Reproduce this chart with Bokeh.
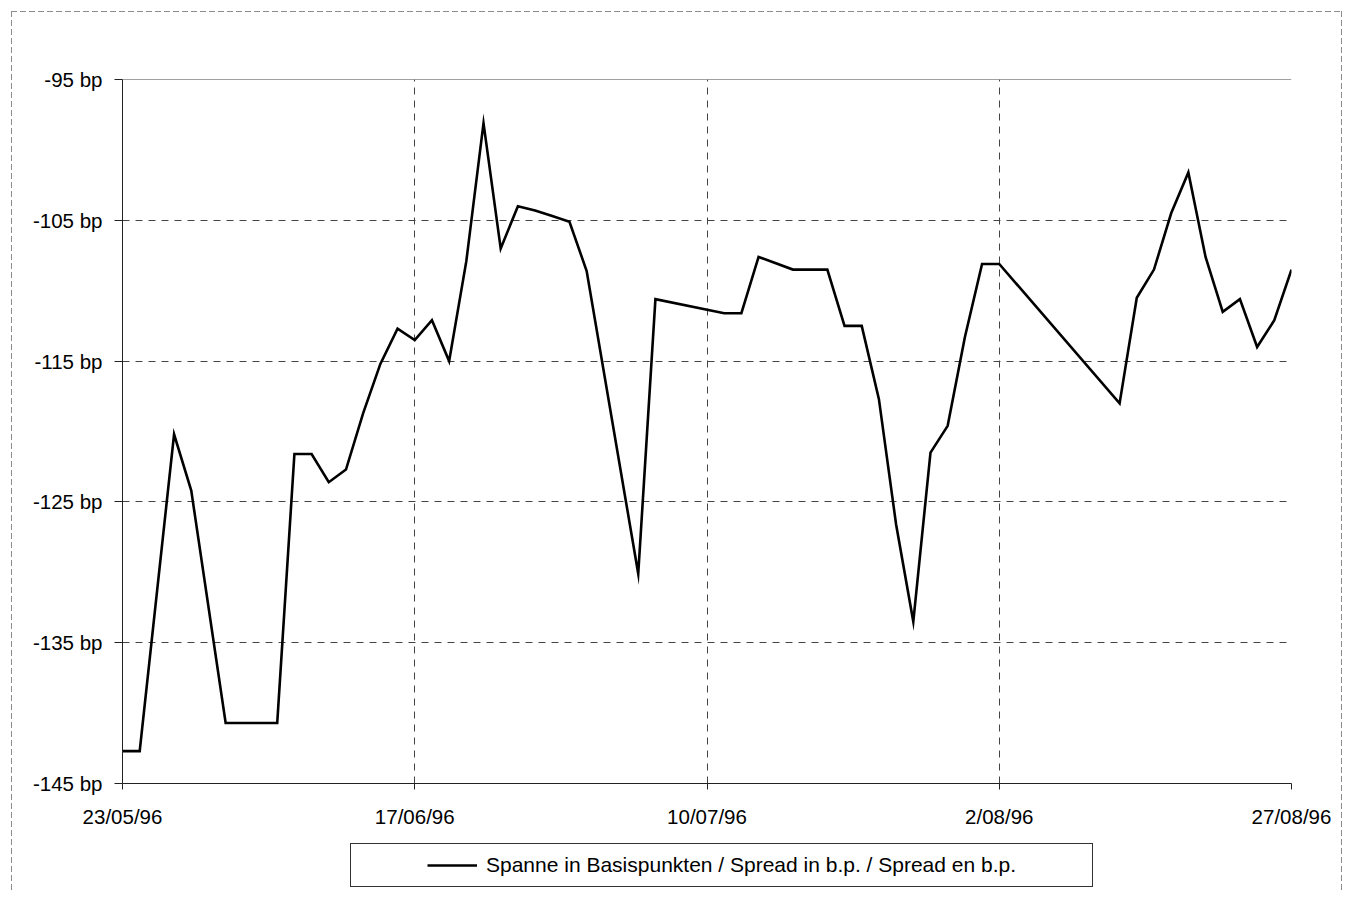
import numpy as np
from bokeh.plotting import figure
from bokeh.layouts import column
from bokeh.models import (Legend, LegendItem, FixedTicker,
                          PrintfTickFormatter, Range1d, Span)
from bokeh.embed import file_html
from bokeh.resources import INLINE

# --- data (business days; values in basis points) ---
dates = ["1996-05-23", "1996-05-24", "1996-05-28", "1996-05-29", "1996-05-31",
         "1996-06-03", "1996-06-04", "1996-06-05", "1996-06-06", "1996-06-07",
         "1996-06-10", "1996-06-11", "1996-06-12", "1996-06-13", "1996-06-14",
         "1996-06-17", "1996-06-18", "1996-06-19", "1996-06-20", "1996-06-21",
         "1996-06-24", "1996-06-25", "1996-06-26", "1996-06-27", "1996-06-28",
         "1996-07-01", "1996-07-04", "1996-07-05", "1996-07-11", "1996-07-12",
         "1996-07-15", "1996-07-17", "1996-07-18", "1996-07-19", "1996-07-22",
         "1996-07-23", "1996-07-24", "1996-07-25", "1996-07-26", "1996-07-29",
         "1996-07-30", "1996-07-31", "1996-08-01", "1996-08-02", "1996-08-13",
         "1996-08-14", "1996-08-15", "1996-08-16", "1996-08-19", "1996-08-20",
         "1996-08-21", "1996-08-22", "1996-08-23", "1996-08-26", "1996-08-27"]
spread = [-142.7, -142.7, -120.2, -124.2, -140.7,
          -140.7, -140.7, -140.7, -121.6, -121.6,
          -123.6, -122.7, -118.7, -115.2, -112.7,
          -113.5, -112.1, -115.0, -107.9, -98.1,
          -107.0, -104.0, -104.3, -104.7, -105.1,
          -108.6, -130.1, -110.6, -111.6, -111.6,
          -107.6, -108.5, -108.5, -108.5, -112.5,
          -112.5, -117.7, -126.6, -133.5, -121.5,
          -119.6, -113.3, -108.1, -108.1, -118.0,
          -110.5, -108.5, -104.5, -101.6, -107.6,
          -111.5, -110.6, -114.0, -112.1, -108.5]
tick_dates = ["1996-05-23", "1996-06-17", "1996-07-10", "1996-08-02", "1996-08-27"]
tick_labels = ["23/05/96", "17/06/96", "10/07/96", "2/08/96", "27/08/96"]
y_ticks = [-145, -135, -125, -115, -105, -95]
legend_label = "Spanne in Basispunkten / Spread in b.p. / Spread en b.p."

start = np.datetime64(dates[0])
x = np.busday_count(start, np.array(dates, dtype="datetime64[D]"))
xt = np.busday_count(start, np.array(tick_dates, dtype="datetime64[D]"))

FONT = "Liberation Sans"
FS = "20.5px"
LINE = dict(line_color="black", line_width=2.6, line_join="miter")

# ---------------- main chart ----------------
p = figure(width=1344, height=835, output_backend="svg", toolbar_location=None,
           x_range=Range1d(0, int(xt[-1])), y_range=Range1d(-145, -95),
           min_border_left=122, min_border_right=53,
           min_border_top=79, min_border_bottom=52)
p.outline_line_color = None
p.background_fill_color = "white"
p.border_fill_color = None

r = p.line(x, spread, **LINE)

p.xaxis.ticker = FixedTicker(ticks=[int(v) for v in xt])
p.xaxis.major_label_overrides = {int(v): lab for v, lab in zip(xt, tick_labels)}
p.yaxis.ticker = FixedTicker(ticks=y_ticks)
p.yaxis.formatter = PrintfTickFormatter(format="%d bp")
for ax in (p.xaxis, p.yaxis):
    ax.axis_line_color = "#222222"
    ax.axis_line_width = 1
    ax.major_tick_line_color = "#222222"
    ax.major_tick_in = 0
    ax.minor_tick_line_color = None
    ax.major_label_text_font = FONT
    ax.major_label_text_font_size = FS
    ax.major_label_text_color = "black"
p.yaxis.major_tick_out = 8
p.yaxis.major_label_standoff = 12
p.xaxis.major_tick_out = 6
p.xaxis.major_label_standoff = 15

for g in (p.xgrid, p.ygrid):
    g.grid_line_color = "#444444"
    g.grid_line_dash = "7 6"
    g.grid_line_width = 1
p.add_layout(Span(location=-95, dimension="width", line_color="#444444", line_width=1))

# ---------------- legend strip ----------------
q = figure(width=1344, height=57, output_backend="svg", toolbar_location=None,
           x_axis_type=None, y_axis_type=None,
           x_range=Range1d(-1, 0), y_range=Range1d(-1, 0), min_border=0)
q.outline_line_color = None
q.background_fill_color = None
q.border_fill_color = None
q.xgrid.visible = False
q.ygrid.visible = False
# same series, kept outside this strip's view: only its legend key is shown
key = q.line(x, spread, **LINE)
blank = q.line(x, spread, line_alpha=0)

legend = Legend(items=[LegendItem(label=" ", renderers=[blank]),
                       LegendItem(label=legend_label, renderers=[key]),
                       LegendItem(label=" ", renderers=[blank])],
                orientation="horizontal", location=(228, 5), margin=0,
                padding=9, spacing=8, glyph_width=50, glyph_height=20,
                label_width=0, label_standoff=9,
                border_line_color="#333333", border_line_width=1, border_line_alpha=1,
                background_fill_color="white", background_fill_alpha=1,
                label_text_font=FONT, label_text_font_size="21px",
                label_text_color="black")
q.add_layout(legend)

# thin dashed outer chart-area border (left, top, right)
dash_v = "repeating-linear-gradient(to bottom, #8c8c8c 0px, #8c8c8c 6px, transparent 6px, transparent 9px)"
dash_h = "repeating-linear-gradient(to right, #8c8c8c 0px, #8c8c8c 6px, transparent 6px, transparent 9px)"
page = column(p, q, spacing=0,
              styles={"background": (f"{dash_v} 11px 11px / 1px 2000px no-repeat, "
                                     f"{dash_v} 1341px 11px / 1px 2000px no-repeat, "
                                     f"{dash_h} 11px 11px / 1331px 1px no-repeat, white")})

open("out.html", "w").write(file_html(page, INLINE))
